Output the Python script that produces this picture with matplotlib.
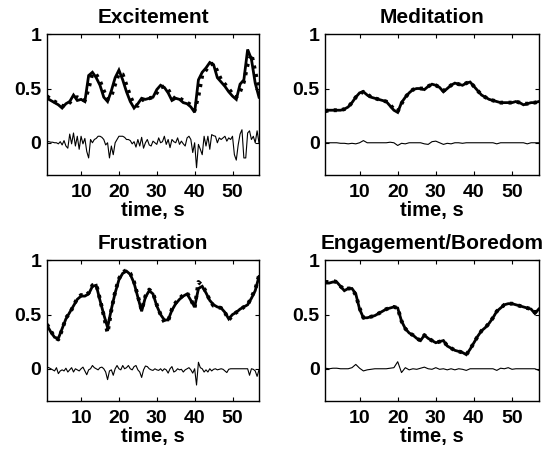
import numpy as np
import matplotlib
matplotlib.use("Agg")
import matplotlib.pyplot as plt

plt.rcParams['font.family'] = ['Liberation Sans', 'DejaVu Sans']
plt.rcParams['font.weight'] = 'bold'

# ---------------- data ----------------
t = np.arange(1, 58)            # 1 s grid, 57 samples
t_fine = np.arange(1, 57.01, 0.5)  # 0.5 s grid, 113 samples

titles = ["Excitement", "Meditation", "Frustration", "Engagement/Boredom"]
xticks = [10, 20, 30, 40, 50]
yticks = [0, 0.5, 1]
yticklabels = ["0", "0.5", "1"]
xlabel = "time, s"

exc_actual = [0.41, 0.39, 0.37, 0.35, 0.32, 0.36, 0.38, 0.44, 0.39, 0.40,
              0.38, 0.62, 0.65, 0.60, 0.53, 0.42, 0.38, 0.48, 0.60, 0.67,
              0.58, 0.47, 0.38, 0.32, 0.36, 0.41, 0.40, 0.41, 0.42, 0.49,
              0.53, 0.51, 0.46, 0.39, 0.41, 0.40, 0.37, 0.36, 0.33, 0.28,
              0.58, 0.65, 0.69, 0.74, 0.72, 0.60, 0.56, 0.52, 0.47, 0.43,
              0.40, 0.54, 0.58, 0.86, 0.77, 0.55, 0.42]
exc_pred = [0.43, 0.40, 0.38, 0.36, 0.34, 0.34, 0.37, 0.41, 0.42, 0.40,
            0.39, 0.50, 0.64, 0.63, 0.57, 0.48, 0.40, 0.43, 0.54, 0.64,
            0.63, 0.53, 0.43, 0.35, 0.34, 0.39, 0.41, 0.41, 0.42, 0.46,
            0.51, 0.52, 0.49, 0.43, 0.40, 0.41, 0.39, 0.37, 0.35, 0.30,
            0.43, 0.62, 0.67, 0.72, 0.73, 0.66, 0.58, 0.54, 0.50, 0.45,
            0.42, 0.47, 0.56, 0.72, 0.82, 0.66, 0.48]
exc_err = [0.010, 0.010, 0.005, 0.005, 0.000, 0.000, -0.010, 0.010, -0.020, 0.020,
           -0.030, -0.050, 0.080, -0.010, 0.090, -0.030, 0.060, -0.060, 0.060, -0.010,
           0.040, -0.080, -0.140, 0.030, 0.000, 0.030, 0.040, 0.060, 0.060, 0.050,
           0.030, -0.020, 0.000, -0.140, -0.030, -0.110, 0.000, 0.030, 0.060, 0.060,
           0.060, 0.050, 0.030, 0.030, 0.020, -0.010, 0.010, -0.040, 0.030, -0.030,
           0.050, -0.050, 0.000, 0.030, -0.020, -0.030, 0.015, 0.000, -0.015, 0.045,
           0.000, 0.010, 0.060, -0.015, 0.030, -0.045, 0.030, 0.010, 0.000, 0.045,
           -0.015, 0.015, -0.010, -0.030, 0.045, 0.060, 0.030, -0.090, 0.000, -0.230,
           -0.015, -0.060, -0.110, 0.060, -0.030, 0.060, -0.060, 0.075, 0.065, 0.060,
           0.000, 0.045, 0.030, 0.045, 0.060, 0.015, 0.045, 0.030, 0.060, -0.110,
           -0.160, -0.020, 0.080, 0.120, -0.140, -0.140, 0.090, 0.110, 0.030, 0.060,
           0.000, 0.110, 0.000]

med_actual = [0.30, 0.30, 0.30, 0.30, 0.30, 0.31, 0.33, 0.37, 0.42, 0.46,
              0.47, 0.44, 0.42, 0.41, 0.40, 0.39, 0.38, 0.34, 0.30, 0.28,
              0.37, 0.42, 0.46, 0.49, 0.50, 0.50, 0.49, 0.52, 0.54, 0.53,
              0.51, 0.47, 0.50, 0.53, 0.55, 0.54, 0.53, 0.55, 0.56, 0.52,
              0.48, 0.44, 0.42, 0.40, 0.39, 0.38, 0.37, 0.37, 0.37, 0.37,
              0.38, 0.37, 0.35, 0.36, 0.37, 0.37, 0.38]
med_pred = [0.29, 0.30, 0.30, 0.30, 0.30, 0.31, 0.33, 0.37, 0.42, 0.45,
            0.47, 0.45, 0.42, 0.41, 0.40, 0.39, 0.38, 0.35, 0.31, 0.29,
            0.36, 0.42, 0.46, 0.49, 0.50, 0.50, 0.50, 0.52, 0.54, 0.53,
            0.51, 0.48, 0.50, 0.53, 0.55, 0.54, 0.53, 0.55, 0.56, 0.52,
            0.48, 0.44, 0.42, 0.40, 0.39, 0.38, 0.37, 0.37, 0.37, 0.37,
            0.38, 0.37, 0.36, 0.36, 0.37, 0.37, 0.38]
med_err = [0.000, 0.000, 0.000, 0.000, -0.005, -0.005, -0.010, -0.005, -0.010, 0.000,
           0.020, 0.000, 0.000, 0.000, 0.000, 0.000, 0.000, 0.005, 0.000, -0.025,
           -0.005, -0.010, 0.000, 0.000, 0.000, 0.000, -0.010, -0.015, 0.010, 0.015,
           0.000, -0.015, -0.005, -0.010, 0.000, 0.000, -0.005, 0.000, 0.000, 0.000,
           0.000, 0.000, 0.000, 0.000, 0.000, -0.010, 0.000, 0.000, 0.000, 0.000,
           0.000, 0.000, 0.000, -0.010, 0.000, 0.000, 0.000]

fru_actual = [0.40, 0.34, 0.29, 0.28, 0.37, 0.46, 0.52, 0.58, 0.64, 0.67,
              0.67, 0.69, 0.76, 0.77, 0.63, 0.50, 0.38, 0.55, 0.70, 0.82,
              0.88, 0.90, 0.87, 0.79, 0.66, 0.53, 0.66, 0.72, 0.69, 0.58,
              0.50, 0.45, 0.45, 0.54, 0.60, 0.64, 0.67, 0.69, 0.63, 0.57,
              0.74, 0.76, 0.70, 0.63, 0.59, 0.57, 0.56, 0.52, 0.46, 0.50,
              0.52, 0.55, 0.57, 0.59, 0.65, 0.72, 0.85]
fru_pred = [0.41, 0.35, 0.29, 0.27, 0.36, 0.47, 0.51, 0.58, 0.65, 0.68,
            0.67, 0.70, 0.77, 0.78, 0.64, 0.49, 0.33, 0.54, 0.71, 0.83,
            0.89, 0.91, 0.88, 0.80, 0.67, 0.54, 0.67, 0.73, 0.70, 0.59,
            0.50, 0.43, 0.44, 0.55, 0.61, 0.65, 0.68, 0.70, 0.64, 0.56,
            0.80, 0.77, 0.71, 0.63, 0.58, 0.57, 0.56, 0.52, 0.45, 0.49,
            0.52, 0.54, 0.57, 0.59, 0.66, 0.73, 0.86]
fru_err = [0.015, 0.010, 0.000, -0.010, -0.020, 0.010, -0.045, -0.020, -0.010, -0.020,
           0.005, -0.030, -0.010, 0.010, -0.030, 0.000, -0.010, -0.020, 0.000, 0.015,
           -0.020, -0.055, -0.010, 0.000, 0.030, 0.010, 0.000, -0.010, 0.010, 0.015,
           0.000, -0.030, -0.100, -0.020, -0.010, -0.060, 0.000, 0.030, 0.000, -0.010,
           0.030, 0.000, 0.010, 0.030, 0.000, -0.010, 0.020, 0.030, -0.010, -0.030,
           -0.080, -0.010, 0.025, 0.020, 0.000, -0.010, -0.015, 0.000, -0.010, -0.015,
           0.000, -0.020, 0.000, -0.010, -0.040, 0.000, 0.020, -0.030, -0.020, 0.000,
           -0.010, -0.005, -0.030, -0.010, 0.000, 0.010, -0.010, -0.040, 0.000, -0.150,
           0.060, 0.010, 0.000, -0.030, -0.010, -0.030, 0.000, -0.020, -0.005, 0.000,
           -0.010, -0.005, 0.000, -0.005, -0.020, -0.035, -0.005, 0.000, 0.000, 0.000,
           0.000, 0.000, 0.000, 0.000, 0.000, 0.000, 0.000, -0.060, 0.000, -0.005,
           -0.020, -0.070, -0.010]

eng_actual = [0.79, 0.79, 0.80, 0.80, 0.76, 0.72, 0.74, 0.74, 0.69, 0.55,
              0.47, 0.47, 0.48, 0.49, 0.51, 0.53, 0.55, 0.56, 0.57, 0.56,
              0.44, 0.37, 0.33, 0.31, 0.28, 0.26, 0.31, 0.28, 0.26, 0.24,
              0.25, 0.26, 0.21, 0.19, 0.17, 0.16, 0.15, 0.13, 0.18, 0.24,
              0.30, 0.35, 0.38, 0.42, 0.47, 0.53, 0.56, 0.59, 0.60, 0.60,
              0.59, 0.58, 0.57, 0.56, 0.55, 0.51, 0.55]
eng_pred = [0.80, 0.80, 0.81, 0.80, 0.76, 0.73, 0.74, 0.74, 0.68, 0.56,
            0.47, 0.47, 0.48, 0.49, 0.51, 0.53, 0.55, 0.56, 0.57, 0.56,
            0.44, 0.37, 0.33, 0.31, 0.28, 0.26, 0.31, 0.28, 0.26, 0.24,
            0.25, 0.26, 0.21, 0.19, 0.17, 0.16, 0.15, 0.13, 0.18, 0.24,
            0.30, 0.35, 0.38, 0.42, 0.47, 0.53, 0.56, 0.59, 0.60, 0.60,
            0.59, 0.58, 0.57, 0.56, 0.55, 0.52, 0.55]
eng_err = [0.005, 0.000, 0.005, 0.005, 0.000, 0.000, 0.000, 0.010, 0.040, 0.005,
           -0.020, -0.010, -0.005, 0.000, 0.000, 0.000, 0.000, 0.005, 0.010, 0.065,
           -0.035, 0.010, -0.010, 0.000, -0.005, 0.005, 0.015, 0.000, -0.005, 0.010,
           -0.005, 0.000, -0.010, 0.000, -0.010, 0.000, -0.005, -0.015, 0.000, 0.000,
           0.000, 0.000, 0.000, 0.000, 0.000, -0.015, 0.005, 0.000, 0.010, -0.005,
           0.000, 0.000, 0.000, 0.000, 0.000, 0.000, -0.015]

panels = [
    (exc_actual, exc_pred, t_fine, exc_err),
    (med_actual, med_pred, t, med_err),
    (fru_actual, fru_pred, t_fine, fru_err),
    (eng_actual, eng_pred, t, eng_err),
]

# ---------------- layout ----------------
W, H = 547, 453
fig = plt.figure(figsize=(W / 100, H / 100), dpi=100)
boxes = [(47, 34.3, 259, 175.3), (325.3, 34.3, 538.7, 175.3),
         (47, 260.3, 259, 401.3), (325.3, 260.3, 538.7, 401.3)]

for (x0, y0, x1, y1), title, (act, pred, terr, err) in zip(boxes, titles, panels):
    ax = fig.add_axes([x0 / W, 1 - y1 / H, (x1 - x0) / W, (y1 - y0) / H])
    ax.plot(t, act, color='black', lw=2.0, solid_joinstyle='miter', zorder=3)
    ax.plot(t, pred, color='black', lw=2.8, linestyle=(0, (0.8, 1.4)), zorder=4)
    ax.plot(terr, err, color='black', lw=0.8, zorder=2)
    ax.set_xlim(1, 57)
    ax.set_ylim(-0.3, 1)
    ax.set_xticks(xticks)
    ax.set_yticks(yticks)
    ax.set_yticklabels(yticklabels)
    ax.tick_params(direction='in', length=3, width=0.8, top=True, right=True,
                   labelsize=14, pad=4)
    ax.tick_params(axis='x', pad=6)
    for lab in ax.get_xticklabels() + ax.get_yticklabels():
        lab.set_fontweight('bold')
    for s in ax.spines.values():
        s.set_linewidth(1.0)
    ax.set_title(title, fontsize=15, fontweight='bold', pad=8)
    ax.set_xlabel(xlabel, fontsize=14.5, fontweight='bold', labelpad=0)

fig.savefig("out.png", dpi=100)
